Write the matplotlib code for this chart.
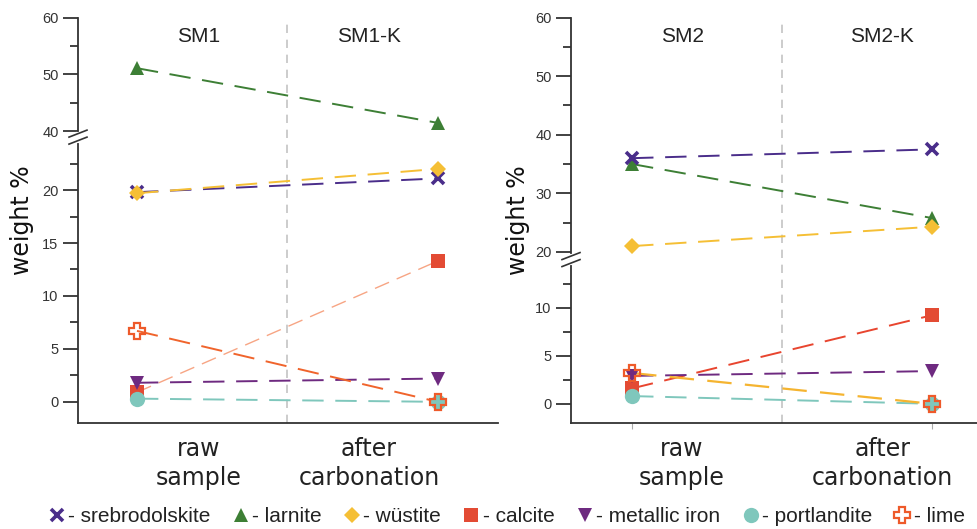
import numpy as np
import matplotlib
matplotlib.use("Agg")
import matplotlib.pyplot as plt
from matplotlib.lines import Line2D

plt.rcParams["font.family"] = ["Liberation Sans", "DejaVu Sans"]

# phases, left panel (SM1 -> SM1-K), right panel (SM2 -> SM2-K)
phases = ["srebrodolskite", "larnite", "wüstite", "calcite", "metallic iron", "portlandite", "lime"]
sm1 = [19.8, 51.1, 19.7, 0.9, 1.8, 0.3, 6.7]
sm1k = [21.1, 41.5, 22.0, 13.3, 2.2, 0.0, 0.0]
sm2 = [36.0, 35.0, 21.0, 1.6, 2.9, 0.8, 3.2]
sm2k = [37.5, 25.8, 24.3, 9.2, 3.4, 0.0, 0.0]

headers_left = ["SM1", "SM1-K"]
headers_right = ["SM2", "SM2-K"]
cats = ["raw\nsample", "after\ncarbonation"]

colors = {"srebrodolskite": "#4a2d8a", "larnite": "#3d7f35", "wüstite": "#f5bf35",
          "calcite": "#e34b34", "metallic iron": "#6e2a80", "portlandite": "#7fc7bc",
          "lime": "#ee5a2a"}
markers = {"srebrodolskite": "x", "larnite": "^", "wüstite": "D", "calcite": "s",
           "metallic iron": "v", "portlandite": "o", "lime": "P"}
msize = {"srebrodolskite": 9, "larnite": 10, "wüstite": 8, "calcite": 10,
         "metallic iron": 10, "portlandite": 11, "lime": 11}
line_left = {"calcite": ("#f7a584", 1.0), "lime": ("#f0642c", 1.4)}
line_right = {"calcite": ("#e8452f", 1.4), "lime": ("#f5b430", 1.6)}
draw_order = ["larnite", "srebrodolskite", "wüstite", "calcite", "metallic iron", "portlandite", "lime"]


def broken(lo, blo, bhi, hi, frac):
    k1 = frac / (blo - lo)
    k2 = (1 - frac) / (hi - bhi)

    def fwd(y):
        y = np.asarray(y, float)
        return np.where(y <= blo, (y - lo) * k1,
                        np.where(y >= bhi, frac + (y - bhi) * k2, frac))

    def inv(t):
        t = np.asarray(t, float)
        return np.where(t <= frac, lo + t / k1, bhi + (t - frac) / k2)
    return fwd, inv


def panel(ax, v0, v1, lines, seg, xlim, majors, minors, heads, lab_x, xticks):
    lo, blo, bhi, hi, frac = seg
    ax.set_yscale("function", functions=broken(lo, blo, bhi, hi, frac))
    ax.set_ylim(lo, hi)
    ax.set_xlim(*xlim)
    for sp in ["top", "right"]:
        ax.spines[sp].set_visible(False)
    for sp in ["left", "bottom"]:
        ax.spines[sp].set_color("#333333")
        ax.spines[sp].set_linewidth(1.3)

    ax.axvline(0.5, color="#c4c4c4", lw=1.2, ls=(0, (5, 4)), zorder=1)

    for i, name in enumerate(phases):
        c, lw = lines.get(name, (colors[name], 1.4))
        ax.plot([0, 1], [v0[i], v1[i]], color=c, lw=lw, ls=(0, (11, 6)), zorder=2)
    for name in draw_order:
        i = phases.index(name)
        c = colors[name]
        kw = dict(marker=markers[name], ms=msize[name], ls="none", zorder=3)
        if name == "lime":
            kw.update(mfc="none", mec=c, mew=1.6)
        elif name == "srebrodolskite":
            kw.update(color=c, mew=2.6)
        else:
            kw.update(color=c, mew=0)
        ax.plot([0, 1], [v0[i], v1[i]], **kw)

    ax.set_yticks(majors)
    ax.set_yticklabels([str(m) for m in majors])
    ax.set_yticks(minors, minor=True)
    ax.tick_params(axis="y", which="major", length=11, width=1.3, color="#333333",
                   labelsize=10.5, labelcolor="#333333", pad=3)
    ax.tick_params(axis="y", which="minor", length=5.5, width=1.3, color="#333333")
    ax.set_xticks([0, 1])
    ax.set_xticklabels(["", ""])
    ax.tick_params(axis="x", length=xticks, width=0.8, color="#aaaaaa")

    for x, h in zip(lab_x, heads):
        ax.text(x, 0.954, h, transform=ax.get_xaxis_transform(), ha="center",
                va="center", fontsize=15, color="#222222")
    for x, c in zip(lab_x, cats):
        ax.text(x, -0.034, c, transform=ax.get_xaxis_transform(), ha="center",
                va="top", fontsize=17, color="#222222", family="DejaVu Sans",
                linespacing=1.25)
    ax.set_ylabel("weight %", fontsize=17, family="DejaVu Sans", color="#111111")

    # break marks on the y axis
    bb = ax.get_position()
    wpx = bb.width * fig.bbox.width
    hpx = bb.height * fig.bbox.height
    g = 3.5 / hpx
    dx, dy = 9 / wpx, 3.5 / hpx
    ax.plot([0, 0], [frac - g, frac + g], color="white", lw=3, transform=ax.transAxes,
            clip_on=False, zorder=5)
    for s in (-g, g):
        ax.plot([-dx, dx], [frac + s - dy, frac + s + dy], color="#333333", lw=1.2,
                transform=ax.transAxes, clip_on=False, zorder=6)


fig = plt.figure(figsize=(9.78, 5.29), dpi=100)
ax1 = fig.add_axes([78 / 978, 1 - 423 / 529, 420 / 978, 405.5 / 529])
ax2 = fig.add_axes([571 / 978, 1 - 423 / 529, 407 / 978, 405.5 / 529])

panel(ax1, sm1, sm1k, line_left, (-2, 25, 39, 60, 0.705), (-0.196, 1.2),
      [0, 5, 10, 15, 20, 40, 50, 60], [2.5, 7.5, 12.5, 17.5, 22.5, 45, 55],
      headers_left, [0.206, 0.771], 0)
panel(ax2, sm2, sm2k, line_right, (-2, 15, 18.7, 60, 0.403), (-0.204, 1.155),
      [0, 5, 10, 20, 30, 40, 50, 60], [2.5, 7.5, 12.5, 25, 35, 45, 55],
      headers_right, [0.167, 0.835], 4)
ax1.yaxis.set_label_coords(-0.105, 0.5)
ax2.yaxis.set_label_coords(-0.10, 0.5)

handles = []
for name in phases:
    c = colors[name]
    if name == "lime":
        h = Line2D([], [], marker="P", ls="none", ms=11, mfc="none", mec=c, mew=1.6)
    elif name == "srebrodolskite":
        h = Line2D([], [], marker="x", ls="none", ms=9, color=c, mew=2.6)
    else:
        h = Line2D([], [], marker=markers[name], ls="none", ms=msize[name], color=c, mew=0)
    handles.append(h)
fig.legend(handles, ["- " + p for p in phases], loc="lower center", ncol=7,
           bbox_to_anchor=(0.518, -0.03), frameon=False, fontsize=15,
           handlelength=0.8, handletextpad=0.15, columnspacing=1.05,
           labelcolor="#222222")

fig.savefig("out.png", dpi=100, facecolor="white")
